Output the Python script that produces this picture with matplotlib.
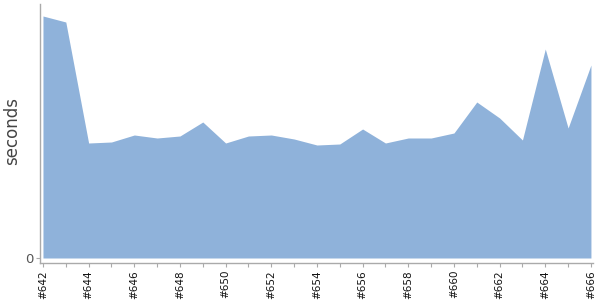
import numpy as np
import matplotlib.pyplot as plt

builds = list(range(642, 667))
seconds = [242, 236, 115, 116, 123, 120, 122, 136, 115, 122, 123, 119, 113,
           114, 129, 115, 120, 120, 125, 156, 140, 118, 209, 130, 193]
tick_labels = ["#%d" % b if b % 2 == 0 else "" for b in builds]

fig = plt.figure(figsize=(6, 3), dpi=100)
ax = fig.add_axes([40 / 600, 37 / 300, 553 / 600, 259 / 300])

x = np.arange(len(builds))
ax.fill_between(x, 0, seconds, color="#8fb2da", linewidth=0)

ax.set_xlim(-0.13, len(builds) - 1 + 0.09)
ax.set_ylim(-5, 254)

ax.set_xticks(x)
ax.set_xticklabels(tick_labels, rotation=90, fontsize=7.5, color="#111111")
ax.set_yticks([0])
ax.set_yticklabels(["0"], fontsize=9.5, color="#555555")
ax.tick_params(axis="both", length=3, width=0.8, color="#aaaaaa", pad=2)

for side in ["top", "right"]:
    ax.spines[side].set_visible(False)
for side in ["left", "bottom"]:
    ax.spines[side].set_color("#aaaaaa")
    ax.spines[side].set_linewidth(1)

ax.set_ylabel("seconds", fontsize=12, color="#444444")
ax.yaxis.set_label_coords(-0.034, 0.51)

fig.savefig("out.png", dpi=100)
plt.close()
